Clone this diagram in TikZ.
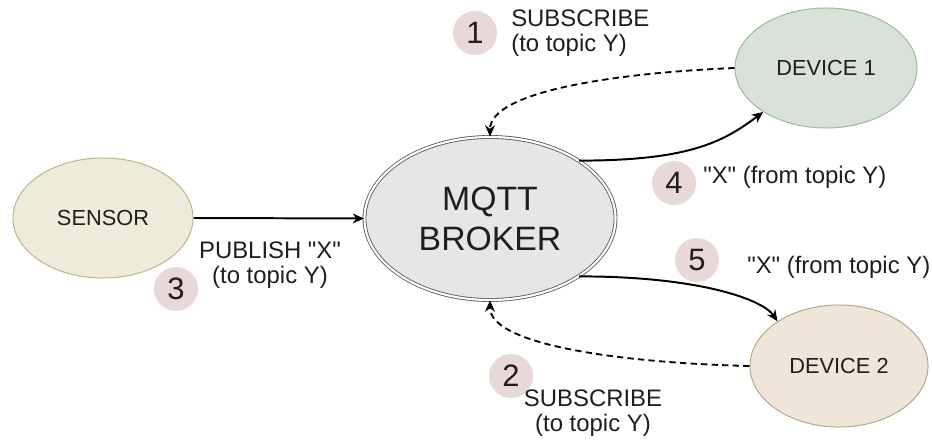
\documentclass[tikz,border=0pt]{standalone}
\usepackage{fontspec}
\setmainfont{Liberation Sans}
\usepackage{xcolor}
\usepackage{tikz}
\usetikzlibrary{arrows.meta}
\usetikzlibrary{shapes.geometric}
\definecolor{txtgray}{HTML}{1E1E1E}
\definecolor{numfill}{HTML}{E9D8D8}
\definecolor{sensorfill}{HTML}{EFEBDB}
\definecolor{sensordraw}{HTML}{BDB38E}
\definecolor{devonefill}{HTML}{D9E2D8}
\definecolor{devonedraw}{HTML}{A1B59D}
\definecolor{devtwofill}{HTML}{EFE5D9}
\definecolor{devtwodraw}{HTML}{B9A784}
\definecolor{brokerfill}{HTML}{E6E6E6}
\definecolor{brokerdraw}{HTML}{5A5A5A}
\tikzset{
    tnode/.style = {align=center, inner sep=0pt, text centered, text=txtgray},
    sensor_node/.style = {tnode, ellipse, draw=sensordraw, fill=sensorfill, line width=0.7pt, minimum width=4.5cm, minimum height=3cm, font=\fontsize{15.5}{18}\selectfont},
    broker_node/.style = {tnode, ellipse, draw=brokerdraw, fill=brokerfill, line width=0.6pt, double=white, double distance=1.5pt, minimum width=6.275cm, minimum height=4.075cm, font=\fontsize{24}{28.5}\selectfont},
    dev1_node/.style = {tnode, ellipse, draw=devonedraw, fill=devonefill, line width=0.7pt, minimum width=4.55cm, minimum height=3cm, font=\fontsize{15.5}{18}\selectfont},
    dev2_node/.style = {tnode, ellipse, draw=devtwodraw, fill=devtwofill, line width=0.7pt, minimum width=4.45cm, minimum height=3.05cm, font=\fontsize{15.5}{18}\selectfont},
    num/.style = {tnode, circle, fill=numfill, minimum size=1.1cm, font=\fontsize{22}{24}\selectfont},
    lbl/.style = {tnode, font=\fontsize{17}{17.8}\selectfont}
}

\begin{document}
\begin{tikzpicture}
            [-,>={Stealth[length=8pt, width=7pt, inset=2.5pt]}, x=0.025cm, y=0.025cm,
            link/.style={->, line width=1.4pt, black},
            sublink/.style={link, line width=1.3pt, dash pattern=on 4.5pt off 3pt}]

            \useasboundingbox (0,0) rectangle (932,441);

            \node [sensor_node] (sensor) at (103,223) {SENSOR};
            \node [broker_node] (broker) at (490,222.5) {MQTT\\BROKER};
            \node [dev1_node] (dev1) at (826,373) {DEVICE 1};
            \node [dev2_node] (dev2) at (839,75) {DEVICE 2};

            \node [num] (n1) at (475,408) {1};
            \node [num] (n2) at (511,65) {2};
            \node [num] (n3) at (176,152) {3};
            \node [num] (n4) at (674,258) {4};
            \node [num] (n5) at (697,181) {5};

            \node [lbl, align=left, anchor=west] (l1) at (511,407.5) {SUBSCRIBE\\(to topic Y)};
            \node [lbl] (l2) at (593,27.5) {SUBSCRIBE\\(to topic Y)};
            \node [lbl] (l3) at (270,176) {PUBLISH \textquotedbl X\textquotedbl\\(to topic Y)};
            \node [lbl, anchor=west] (l4) at (703,264) {\textquotedbl X\textquotedbl{} (from topic Y)};
            \node [lbl, anchor=west] (l5) at (747,174) {\textquotedbl X\textquotedbl{} (from topic Y)};

            \draw [link] (sensor.east) -- (broker.west);
            \draw [sublink] (dev1.west) .. controls +(-120,-5) and +(0,45) .. (broker.north);
            \draw [sublink] (dev2.west) .. controls +(-125,3) and +(0,-45) .. (broker.south);
            \draw [link] (broker.33) .. controls +(110,0) and +(-40,-30) .. (dev1.215);
            \draw [link] (broker.-33) .. controls +(120,0) and +(-15,22) .. (dev2.144);
        \end{tikzpicture}
\end{document}
